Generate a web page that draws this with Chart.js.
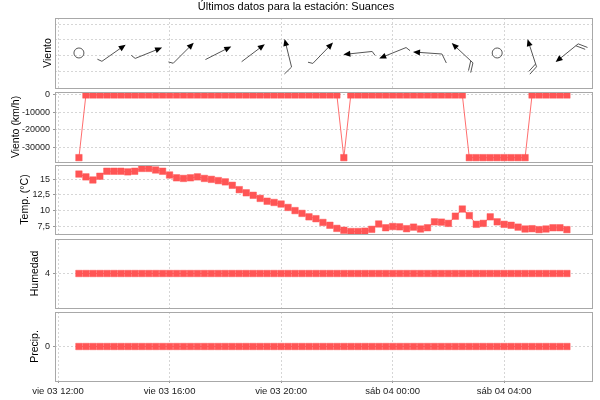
<!DOCTYPE html>
<html>
<head>
<meta charset="utf-8">
<script src="https://cdn.jsdelivr.net/npm/chart.js@4.4.1/dist/chart.umd.min.js"></script>
<style>
html, body { margin: 0; padding: 0; background: #fff; }
#caja { position: relative; width: 600px; height: 400px; }
#caja canvas { position: absolute; left: 0; top: 0; }
</style>
</head>
<body>
<div id="caja">
  <canvas id="cDir" width="600" height="400"></canvas>
  <canvas id="cVel" width="600" height="400"></canvas>
  <canvas id="cTemp" width="600" height="400"></canvas>
  <canvas id="cHum" width="600" height="400"></canvas>
  <canvas id="cPrec" width="600" height="400"></canvas>
</div>
<script>
/*--Datos--*/
var horas = [
  "03 12:45","03 13:00","03 13:15","03 13:30","03 13:45","03 14:00","03 14:15","03 14:30","03 14:45",
  "03 15:00","03 15:15","03 15:30","03 15:45","03 16:00","03 16:15","03 16:30","03 16:45",
  "03 17:00","03 17:15","03 17:30","03 17:45","03 18:00","03 18:15","03 18:30","03 18:45",
  "03 19:00","03 19:15","03 19:30","03 19:45","03 20:00","03 20:15","03 20:30","03 20:45",
  "03 21:00","03 21:15","03 21:30","03 21:45","03 22:00","03 22:15","03 22:30","03 22:45",
  "03 23:00","03 23:15","03 23:30","03 23:45",
  "04 00:00","04 00:15","04 00:30","04 00:45","04 01:00","04 01:15","04 01:30","04 01:45",
  "04 02:00","04 02:15","04 02:30","04 02:45","04 03:00","04 03:15","04 03:30","04 03:45",
  "04 04:00","04 04:15","04 04:30","04 04:45","04 05:00","04 05:15","04 05:30","04 05:45",
  "04 06:00","04 06:15"
];
var vientoKmh = [
  -36000, 0, 0, 0, 0, 0, 0, 0, 0, 0, 0, 0, 0, 0, 0, 0, 0, 0, 0, 0, 0, 0, 0, 0, 0,
  0, 0, 0, 0, 0, 0, 0, 0, 0, 0, 0, 0, 0, -36000, 0, 0, 0, 0, 0, 0, 0, 0, 0, 0, 0,
  0, 0, 0, 0, 0, 0, -36000, -36000, -36000, -36000, -36000, -36000, -36000, -36000, -36000,
  0, 0, 0, 0, 0, 0
];
var temperatura = [
  15.85, 15.4, 14.9, 15.5, 16.3, 16.3, 16.3, 16.2, 16.3, 16.75, 16.75, 16.5, 16.3, 15.7, 15.25,
  15.15, 15.25, 15.4, 15.15, 15.0, 14.8, 14.6, 14.05, 13.35, 12.85, 12.45, 11.95, 11.5, 11.3, 11.05,
  10.5, 10.0, 9.55, 9.0, 8.7, 8.1, 7.65, 7.15, 6.85, 6.65, 6.65, 6.7, 7.0, 7.85, 7.25,
  7.45, 7.4, 7.1, 7.35, 7.05, 7.25, 8.2, 8.15, 7.95, 9.1, 10.25, 9.2, 7.8, 7.95, 9.0,
  8.2, 7.8, 7.65, 7.35, 7.05, 7.1, 6.95, 7.05, 7.25, 7.25, 6.95
];
var humedad = [
  4, 4, 4, 4, 4, 4, 4, 4, 4, 4, 4, 4, 4, 4, 4, 4, 4, 4, 4, 4, 4, 4, 4, 4, 4,
  4, 4, 4, 4, 4, 4, 4, 4, 4, 4, 4, 4, 4, 4, 4, 4, 4, 4, 4, 4, 4, 4, 4, 4, 4,
  4, 4, 4, 4, 4, 4, 4, 4, 4, 4, 4, 4, 4, 4, 4, 4, 4, 4, 4, 4, 4
];
var precipitacion = [
  0, 0, 0, 0, 0, 0, 0, 0, 0, 0, 0, 0, 0, 0, 0, 0, 0, 0, 0, 0, 0, 0, 0, 0, 0,
  0, 0, 0, 0, 0, 0, 0, 0, 0, 0, 0, 0, 0, 0, 0, 0, 0, 0, 0, 0, 0, 0, 0, 0, 0,
  0, 0, 0, 0, 0, 0, 0, 0, 0, 0, 0, 0, 0, 0, 0, 0, 0, 0, 0, 0, 0
];
// direccion (grados, de donde viene) y barbas, cada hora y cuarto
var horasDir = ["03 12:45","03 14:00","03 15:15","03 16:30","03 17:45","03 19:00","03 20:15","03 21:30",
                "03 22:45","04 00:00","04 01:15","04 02:30","04 03:45","04 05:00","04 06:15"];
var vientoDir = [null, 235, 248, 225, 243, 233, 166, 224, 84, 68, 94, 133, null, 162, 51];
var vientoBarbas = [0, 1, 1, 1, 0, 0, 2, 1, 1, 1, 2, 4, 0, 4, 4];

var ticksX = ["03 12:00", "03 16:00", "03 20:00", "04 00:00", "04 04:00"];
var etiquetasX = ["vie 03 12:00", "vie 03 16:00", "vie 03 20:00", "sáb 04 00:00", "sáb 04 04:00"];
/*--------*/

Chart.defaults.font.family = "'Liberation Sans', Arial, sans-serif";
Chart.defaults.color = '#222';
Chart.defaults.animation = false;

function minutos(s) {
  var p = s.split(' '), hm = p[1].split(':');
  return (parseInt(p[0], 10) - 3) * 1440 + parseInt(hm[0], 10) * 60 + parseFloat(hm[1]);
}
var xMin = 713.5, xMax = 1869;
var rejilla = '#d6d6d6';

function serie(vals) {
  return vals.map(function (v, i) { return { x: minutos(horas[i]), y: v }; });
}

var marco = {
  id: 'marco',
  afterDraw: function (chart) {
    var a = chart.chartArea, ctx = chart.ctx;
    ctx.save();
    ctx.strokeStyle = '#a8a8a8';
    ctx.lineWidth = 1;
    ctx.strokeRect(Math.floor(a.left) + 0.5, Math.floor(a.top) + 0.5,
                   Math.round(a.right - a.left), Math.round(a.bottom - a.top));
    ctx.restore();
  }
};

var flechas = {
  id: 'flechas',
  afterDatasetsDraw: function (chart) {
    var ctx = chart.ctx, pts = chart.getDatasetMeta(0).data;
    var cs = Math.cos(Math.PI / 6), sn = Math.sin(Math.PI / 6);
    ctx.save();
    ctx.lineWidth = 1;
    pts.forEach(function (p, i) {
      var dir = vientoDir[i];
      ctx.strokeStyle = '#555';
      if (dir === null) {
        ctx.beginPath(); ctx.arc(p.x, p.y, 5, 0, 2 * Math.PI); ctx.stroke();
        return;
      }
      var a = (dir + 180) * Math.PI / 180;
      var ux = Math.sin(a), uy = -Math.cos(a), L = 29;
      // barb direction: perpendicular, leaning back toward the tail
      var px = uy * cs - ux * sn, py = -ux * cs - uy * sn;
      var hx = p.x + ux * L / 2, hy = p.y + uy * L / 2;
      var tx = p.x - ux * L / 2, ty = p.y - uy * L / 2;
      ctx.beginPath(); ctx.moveTo(tx, ty); ctx.lineTo(hx - ux * 4, hy - uy * 4); ctx.stroke();
      ctx.fillStyle = '#000';
      ctx.beginPath();
      ctx.moveTo(hx, hy);
      ctx.lineTo(hx - ux * 7 + uy * 3, hy - uy * 7 - ux * 3);
      ctx.lineTo(hx - ux * 7 - uy * 3, hy - uy * 7 + ux * 3);
      ctx.closePath(); ctx.fill();
      var n = vientoBarbas[i], k = 0;
      while (n > 0) {
        var len = n >= 2 ? 10 : 5, bx = tx + ux * k * 3, by = ty + uy * k * 3;
        ctx.beginPath(); ctx.moveTo(bx, by); ctx.lineTo(bx + px * len, by + py * len); ctx.stroke();
        n -= 2; k++;
      }
    });
    ctx.restore();
  }
};

function ejeX(mostrar) {
  return {
    type: 'linear', min: xMin, max: xMax,
    afterBuildTicks: function (s) { s.ticks = ticksX.map(function (t) { return { value: minutos(t) }; }); },
    afterFit: function (s) { s.height = mostrar ? 19 : 0; },
    grid: { color: rejilla, drawTicks: mostrar, tickLength: 2, tickColor: '#999', tickBorderDash: [] },
    border: { display: false, dash: [2, 2] },
    ticks: {
      display: mostrar, autoSkip: false, maxRotation: 0, padding: 3,
      font: { size: 9.5 }, color: '#222',
      callback: function (v, i) { return etiquetasX[i]; }
    }
  };
}

function ejeY(o) {
  return {
    min: o.min, max: o.max,
    afterBuildTicks: function (s) { s.ticks = o.ticks.map(function (v) { return { value: v }; }); },
    afterFit: function (s) { s.width = 55; },
    grid: { color: rejilla, drawTicks: o.marcas, tickLength: 2, tickColor: '#999', tickBorderDash: [] },
    border: { display: false, dash: [2, 2] },
    ticks: {
      display: o.marcas, padding: 3, font: { size: 9 }, color: '#222',
      callback: o.formato || function (v) { return String(v); }
    },
    title: { display: true, text: o.titulo, font: { size: 10.5 }, color: '#000', padding: { top: o.tituloX, bottom: 0 } }
  };
}

function serieRoja(vals) {
  return [{
    data: serie(vals),
    borderColor: 'rgba(255,85,85,0.85)', borderWidth: 1,
    pointStyle: 'rect', pointRadius: 4.6,
    pointBackgroundColor: '#ff5555', pointBorderColor: 'rgba(255,85,85,0.45)', pointBorderWidth: 1,
    clip: 0
  }];
}

function panel(id, datasets, y, arriba, abajo, ultimo, extra) {
  var plugins = [marco].concat(extra || []);
  return new Chart(id, {
    type: 'line',
    data: { datasets: datasets },
    options: {
      responsive: false,
      layout: { padding: { left: 0, right: 8, top: arriba, bottom: abajo } },
      plugins: {
        legend: { display: false },
        tooltip: { enabled: false },
        title: id === 'cDir' ? {
          display: true, text: 'Últimos datos para la estación: Suances',
          font: { size: 11, weight: 'normal' }, color: '#000', padding: { top: 0.5, bottom: 4.3 }
        } : { display: false }
      },
      scales: { x: ejeX(ultimo), y: ejeY(y) }
    },
    plugins: plugins
  });
}

panel('cDir', [{
  data: horasDir.map(function (h) { return { x: minutos(h), y: 2.15 }; }),
  pointRadius: 0, showLine: false
}], { min: -0.085, max: 4.383, ticks: [1, 2, 3, 4], marcas: false, titulo: 'Viento', tituloX: 41.4 },
  0, 312, false, [flechas]);

panel('cVel', serieRoja(vientoKmh),
  { min: -38500, max: 1700, ticks: [-30000, -20000, -10000, 0], marcas: true, titulo: 'Viento (km/h)', tituloX: 9.7 },
  92, 238, false);

panel('cTemp', serieRoja(temperatura),
  { min: 6.25, max: 17.3, ticks: [7.5, 10, 12.5, 15], marcas: true, titulo: 'Temp. (°C)', tituloX: 19.2,
    formato: function (v) { return String(v).replace('.', ','); } },
  165, 166, false);

panel('cHum', serieRoja(humedad),
  { min: 3, max: 5, ticks: [4], marcas: true, titulo: 'Humedad', tituloX: 28.7 },
  239, 92, false);

panel('cPrec', serieRoja(precipitacion),
  { min: -1, max: 1, ticks: [0], marcas: true, titulo: 'Precip.', tituloX: 28.7 },
  312, 0, true);
</script>
</body>
</html>
